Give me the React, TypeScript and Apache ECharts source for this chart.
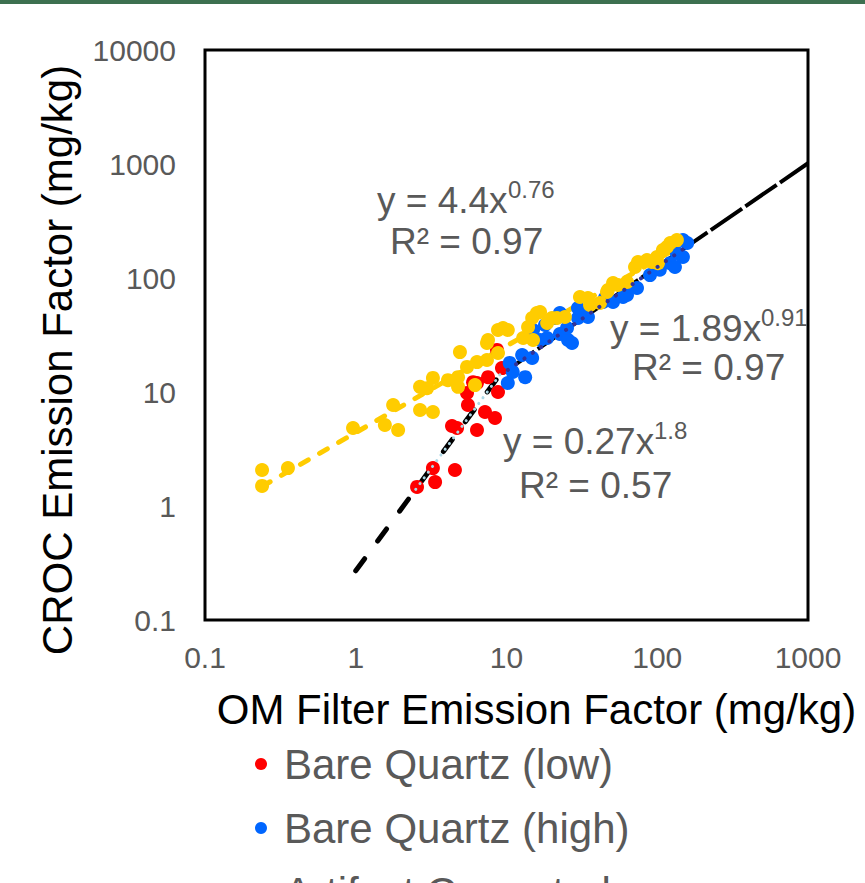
import React, { useEffect, useRef } from 'react';
import * as echarts from 'echarts';

// ---- data ----
const xTickLabels = ['0.1', '1', '10', '100', '1000'];
const yTickLabels = ['0.1', '1', '10', '100', '1000', '10000'];

const seriesNames = ['Bare Quartz (low)', 'Bare Quartz (high)', 'Artifact Corrected'];

const redPoints = [
  [2.55, 1.47], [3.25, 2.15], [3.36, 1.62], [4.55, 2.07], [4.70, 4.83], [4.35, 5.03],
  [6.37, 4.64], [8.39, 5.92], [7.20, 6.68], [5.55, 7.69], [5.47, 9.8], [6.37, 12.0],
  [7.54, 13.5], [8.78, 10.0], [9.33, 16.2], [8.65, 23.4], [6.0, 12.2],
];

const bluePoints = [
  [10.2, 12.0], [13.3, 13.5], [10.5, 18.0], [12.7, 21.1], [14.8, 19.9], [11.0, 15.0],
  [15.0, 35.0], [16.7, 28.6], [18.6, 29.8], [22.6, 32.3], [25.6, 28.6], [27.2, 26.9],
  [22.6, 49.3], [25.2, 36.4], [29.8, 44.6], [33.2, 47.3], [34.7, 45.5], [43.7, 61.6],
  [50.9, 61.6], [45.0, 66.8], [59.3, 68.1], [63.0, 70.9], [73.4, 81.7], [89.5, 106],
  [104, 118], [122, 135], [131, 125], [148, 153], [158, 203], [148, 215], [135, 166],
  [29.8, 54.6], [18.0, 38.7], [21.0, 44.6],
];

const yellowPoints = [
  [0.239, 2.07], [0.239, 1.50], [0.355, 2.15], [0.959, 4.83], [1.56, 5.13], [1.91, 4.64],
  [1.77, 7.69], [2.67, 6.95], [3.25, 6.68], [2.97, 10.8], [2.67, 11.1], [3.25, 13.3],
  [4.09, 12.7], [4.77, 13.5], [4.77, 11.1], [6.18, 11.5], [5.47, 16.6], [6.37, 18.3],
  [7.42, 19.1], [4.91, 22.4], [7.42, 26.9], [8.78, 22.0], [8.78, 35.0], [10.2, 35.0],
  [13.9, 37.2], [15.9, 49.3], [15.0, 28.6], [12.9, 29.8], [18.6, 40.3], [21.6, 44.6],
  [24.4, 45.5], [30.7, 68.1], [35.8, 58.0], [41.7, 60.4], [47.1, 78.5], [50.9, 90.4],
  [7.54, 28.6], [9.48, 36.4], [14.8, 44.6], [16.7, 50.3], [20.0, 44.6], [34.7, 66.8],
  [46.4, 75.4], [54.9, 86.8], [63.0, 92.2], [71.2, 125], [74.5, 138], [92.3, 138],
  [99.6, 153], [109, 176], [122, 203], [116, 187], [135, 215], [101, 135], [85.5, 144],
];

// trendline end points (power fits, straight on log-log axes)
const yellowFit = [[0.24, 1.49], [135, 183]];
const redFitExtended = [[1, 0.27], [9.5, 15.5]];
const redFitDotted = [[2.5, 1.40], [9.5, 15.5]];
const blueFitExtended = [[9.5, 14.7], [1000, 1015]];
const blueFitDotted = [[10.2, 15.6], [158, 189]];

const FONT = 'Liberation Sans, Arial, sans-serif';
const GRAY = '#595959';

function labelFor(labels: string[], minExp: number) {
  return (v: number) => {
    const i = Math.round(Math.log10(v)) - minExp;
    return labels[i] ?? '';
  };
}

export default function App() {
  const ref = useRef<HTMLDivElement>(null);

  useEffect(() => {
    if (!ref.current) return;
    const chart = echarts.init(ref.current, undefined, { renderer: 'svg' });
    const txt = (text: string, x: number, y: number, size: number) => ({
      type: 'text',
      x,
      y,
      silent: true,
      z: 100,
      style: { text, fontSize: size, fontFamily: FONT, fill: GRAY, align: 'left', verticalAlign: 'middle' },
    });
    const scatter = (name: string, data: number[][], color: string) => ({
      name, type: 'scatter', data, symbol: 'circle', symbolSize: 14, z: 2,
      itemStyle: { color, opacity: 1 },
    });
    chart.setOption({
      animation: false,
      backgroundColor: '#ffffff',
      grid: {
        left: 205, top: 50, width: 603, height: 570,
        show: true, borderColor: '#000000', borderWidth: 3, backgroundColor: 'transparent',
      },
      xAxis: {
        type: 'log', logBase: 10, min: 0.1, max: 1000,
        axisLine: { show: false }, axisTick: { show: false }, splitLine: { show: false },
        axisLabel: { fontSize: 30, color: GRAY, fontFamily: FONT, margin: 22, formatter: labelFor(xTickLabels, -1) },
        name: 'OM Filter Emission Factor (mg/kg)',
        nameLocation: 'middle', nameGap: 68,
        nameTextStyle: { fontSize: 42, color: '#000', fontFamily: FONT, padding: [0, 0, 0, 60] },
      },
      yAxis: {
        type: 'log', logBase: 10, min: 0.1, max: 10000,
        axisLine: { show: false }, axisTick: { show: false }, splitLine: { show: false },
        axisLabel: { fontSize: 30, color: GRAY, fontFamily: FONT, margin: 29, formatter: labelFor(yTickLabels, -1) },
        name: 'CROC Emission Factor (mg/kg)',
        nameLocation: 'middle', nameGap: 127,
        nameTextStyle: { fontSize: 42, color: '#000', fontFamily: FONT, padding: [0, 50, 0, 0] },
      },
      legend: {
        data: seriesNames,
        orient: 'vertical',
        left: 255, top: 743, height: 240,
        padding: 0,
        itemWidth: 12, itemHeight: 12, itemGap: 22,
        icon: 'circle',
        itemStyle: { opacity: 1 },
        textStyle: { fontSize: 42, lineHeight: 42, color: GRAY, fontFamily: FONT, padding: [0, 0, 0, 12] },
      },
      series: [
        { type: 'line', data: redFitExtended, symbol: 'none', silent: true, z: 1,
          lineStyle: { color: '#000', width: 5, type: [15, 22], cap: 'round' } },
        { type: 'line', data: blueFitExtended, symbol: 'none', silent: true, z: 1,
          lineStyle: { color: '#000', width: 4, type: [38, 4] } },
        { type: 'line', data: yellowFit, symbol: 'none', silent: true, z: 1,
          lineStyle: { color: '#FFCC00', width: 5, type: [9, 13], cap: 'round' } },
        scatter(seriesNames[0], redPoints, '#FF0000'),
        scatter(seriesNames[1], bluePoints, '#0066FF'),
        scatter(seriesNames[2], yellowPoints, '#FFCC00'),
        { type: 'line', data: redFitDotted, symbol: 'none', silent: true, z: 3,
          lineStyle: { color: '#ADD8E6', width: 3, type: [0.1, 7], cap: 'round' } },
        { type: 'line', data: blueFitDotted, symbol: 'none', silent: true, z: 3,
          lineStyle: { color: '#333399', width: 4, type: [0.1, 10], cap: 'round' } },
      ],
      graphic: [
        { type: 'rect', left: 0, top: 0, shape: { width: 865, height: 4 }, style: { fill: '#3D7050' }, silent: true },
        txt('y = 4.4x', 377, 200, 37),
        txt('0.76', 508, 189, 24),
        txt('R² = 0.97', 390, 241, 37),
        txt('y = 1.89x', 610, 328, 37),
        txt('0.91', 761, 317, 24),
        txt('R² = 0.97', 632, 367, 37),
        txt('y = 0.27x', 503, 441, 37),
        txt('1.8', 654, 430, 24),
        txt('R² = 0.57', 519, 485, 37),
      ],
    });
    return () => chart.dispose();
  }, []);

  return <div ref={ref} style={{ position: 'fixed', left: 0, top: 0, width: 865, height: 883 }} />;
}
